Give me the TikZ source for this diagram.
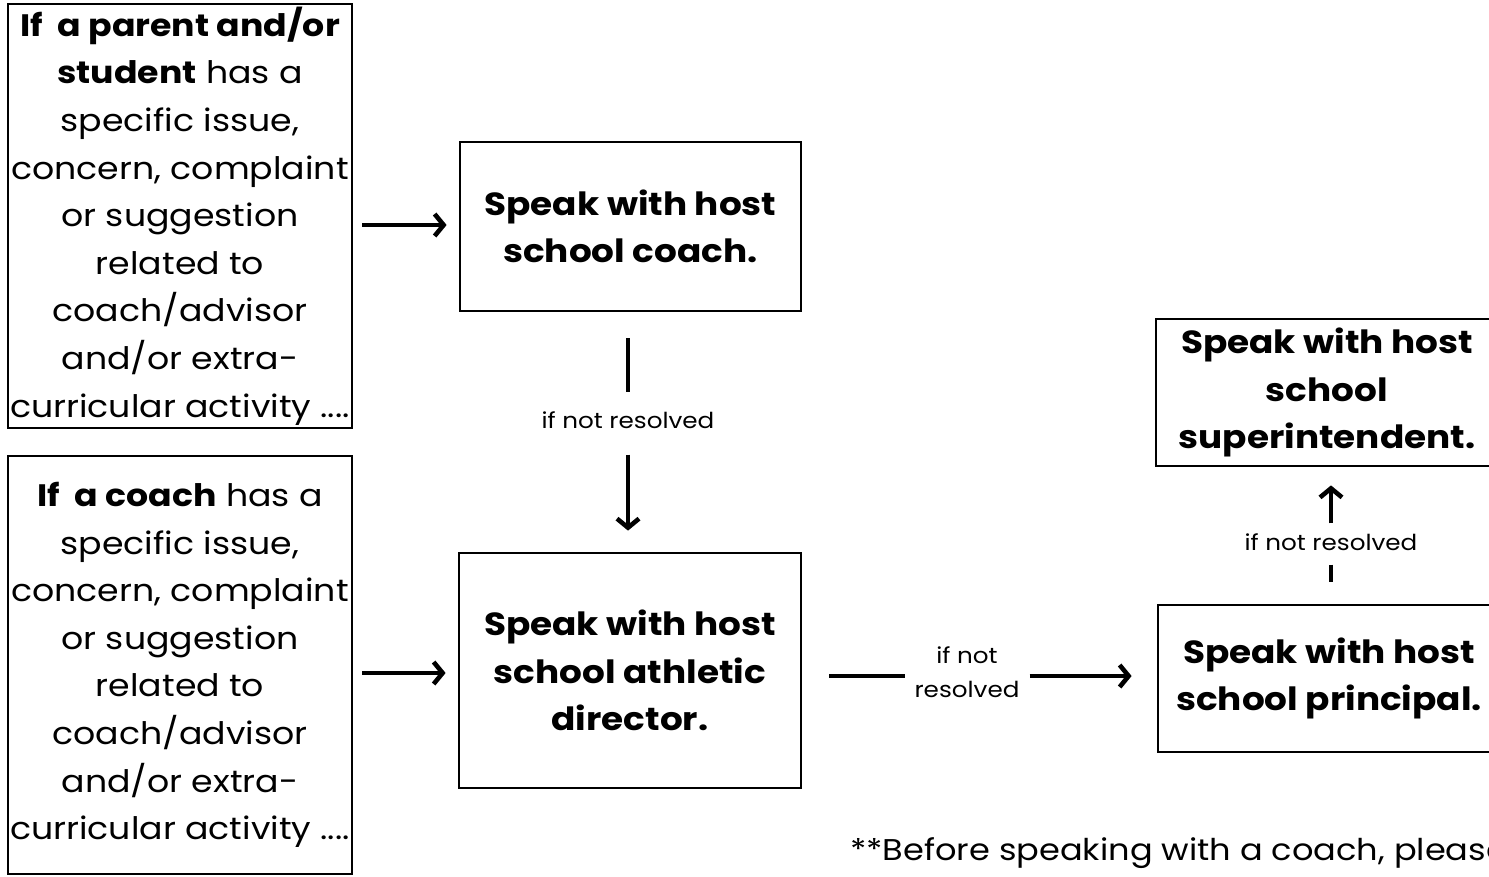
\documentclass[tikz,border=0pt]{standalone}
\usepackage{fontspec}
\setmainfont{Poppins}[FakeStretch=1.12]
\usetikzlibrary{arrows.meta}
\begin{document}
\begin{tikzpicture}[x=1pt,y=-1pt,
  box/.style={draw, line width=2.8pt, align=center, inner sep=0pt},
  big/.style={font=\fontsize{31}{47.6}\selectfont},
  bigb/.style={font=\fontsize{32}{47.6}\selectfont\bfseries},
  small/.style={font=\fontsize{22}{34}\selectfont, align=center, inner sep=0pt},
  arr/.style={line width=4.6pt, -{Straight Barb[length=9pt,width=22pt,line width=4.6pt]}},
  seg/.style={line width=4.6pt}]
\useasboundingbox (0,0) rectangle (1489,876);
\clip (0,0) rectangle (1489,876);
\fill[white] (0,0) rectangle (1489,876);

% left boxes
\node[box, big, minimum width=344, minimum height=424] (lt) at (180,216)
 {\textbf{If\ \ a parent and/or}\\ \textbf{student} has a\\ specific issue,\\ concern, complaint\\ or suggestion\\ related to\\ coach/advisor\\ and/or extra-\\ curricular activity ....};
\node[box, big, minimum width=344, minimum height=418] (lb) at (180,665)
 {\textbf{If\ \ a coach} has a\\ specific issue,\\ concern, complaint\\ or suggestion\\ related to\\ coach/advisor\\ and/or extra-\\ curricular activity ....};

% step boxes
\node[box, bigb, minimum width=341, minimum height=169] (coach) at (630.5,226.5)
 {Speak with host\\ school coach.};
\node[box, bigb, minimum width=342, minimum height=235] (ad) at (630,670.5)
 {Speak with host\\ school athletic\\ director.};
\node[box, bigb, minimum width=342, minimum height=147] (sup) at (1327,392.5)
 {Speak with host\\ school\\ superintendent.};
\node[box, bigb, minimum width=342, minimum height=147] (pr) at (1329,678.5)
 {Speak with host\\ school principal.};

% labels
\node[small] (l1) at (628,420) {if not resolved};
\node[small] (l2) at (967,672) {if not\\ resolved};
\node[small] (l3) at (1331,542) {if not resolved};

% connectors
\draw[arr] ([xshift=9pt]lt.east |- 0,225) -- ([xshift=-12pt]coach.west |- 0,225);
\draw[arr] ([xshift=9pt]lb.east |- 0,673) -- ([xshift=-12pt]ad.west |- 0,673);

\draw[seg] ([yshift=-26pt]coach.south -| l1) -- ([yshift=19pt]l1.north);
\draw[arr] ([yshift=-26pt]l1.south) -- ([yshift=21pt]ad.north -| l1);

\draw[seg] ([xshift=27pt]ad.east |- 0,676) -- ([xshift=-9pt]l2.west |- 0,676);
\draw[arr] ([xshift=10pt]l2.east |- 0,676) -- ([xshift=-25pt]pr.west |- 0,676);

\draw[seg] ([yshift=39pt]pr.north -| l3) -- ([yshift=22pt]pr.north -| l3);
\draw[arr] ([yshift=10pt]l3.north) -- ([yshift=-18pt]sup.south -| l3);

% footnote
\node[font=\fontsize{30}{34}\selectfont, anchor=base west, inner sep=0pt] (note) at (850,860)
 {**Before speaking with a coach, please};
\end{tikzpicture}
\end{document}
